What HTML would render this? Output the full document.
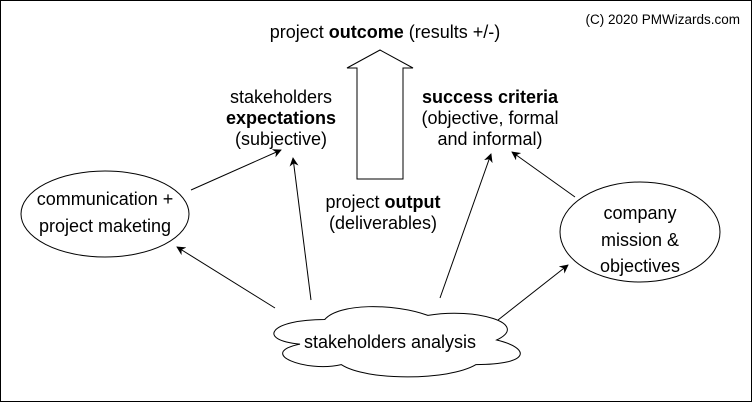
<!DOCTYPE html>
<html><head><meta charset="utf-8"><style>
html,body{margin:0;padding:0;background:#fff}
svg{display:block}
text{font-family:"Liberation Sans",Arial,sans-serif;font-size:18px;fill:#000}
</style></head><body>
<svg width="752" height="402" viewBox="0 0 752 402" xmlns="http://www.w3.org/2000/svg">
<defs><marker id="a" viewBox="0 0 10 10" refX="9" refY="5" markerWidth="9" markerHeight="9" markerUnits="userSpaceOnUse" orient="auto"><path d="M0,0 L10,5 L0,10 L3,5 Z" fill="#000"/></marker></defs>
<rect x="0.5" y="0.5" width="751" height="401" fill="#fff" stroke="#000"/>
<text x="740" y="24" text-anchor="end" style="font-size:13.5px">(C) 2020 PMWizards.com</text>
<text x="385" y="38" text-anchor="middle">project <tspan font-weight="bold">outcome</tspan> (results +/-)</text>
<path d="M357,179 L357,68 L347,68 L380,50 L413,68 L403,68 L403,179 Z" fill="#fff" stroke="#000"/>
<text x="281" y="103" text-anchor="middle">stakeholders</text>
<text x="281" y="124" text-anchor="middle" font-weight="bold">expectations</text>
<text x="281" y="145" text-anchor="middle">(subjective)</text>
<text x="490" y="103" text-anchor="middle" font-weight="bold">success criteria</text>
<text x="490" y="124" text-anchor="middle">(objective, formal</text>
<text x="490" y="145" text-anchor="middle">and informal)</text>
<text x="383" y="208" text-anchor="middle">project <tspan font-weight="bold">output</tspan></text>
<text x="383" y="229" text-anchor="middle">(deliverables)</text>
<ellipse cx="105" cy="214" rx="84" ry="43" fill="#fff" stroke="#000"/>
<text x="105" y="205" text-anchor="middle">communication +</text>
<text x="105" y="232" text-anchor="middle">project maketing</text>
<ellipse cx="640" cy="232" rx="80" ry="50" fill="#fff" stroke="#000"/>
<text x="640" y="219" text-anchor="middle">company</text>
<text x="640" y="246" text-anchor="middle">mission &amp;</text>
<text x="640" y="272" text-anchor="middle">objectives</text>
<g stroke="#000" fill="none" marker-end="url(#a)">
<line x1="191" y1="190" x2="281" y2="150"/>
<line x1="311" y1="300" x2="293" y2="158"/>
<line x1="275" y1="308" x2="177" y2="247"/>
<line x1="440" y1="298" x2="491" y2="154"/>
<line x1="498" y1="320" x2="568" y2="265"/>
<line x1="575" y1="197" x2="512" y2="152"/>
</g>
<path transform="translate(256,299) scale(275,82)" vector-effect="non-scaling-stroke" d="M0.25,0.25 C0.05,0.25 0,0.5 0.16,0.55 C0,0.66 0.18,0.9 0.31,0.8 C0.4,1 0.7,1 0.8,0.8 C1,0.8 1,0.6 0.875,0.5 C1,0.3 0.8,0.1 0.625,0.2 C0.5,0.05 0.3,0.05 0.25,0.25 Z" fill="#fff" stroke="#000" stroke-width="1"/>
<text x="390" y="348" text-anchor="middle">stakeholders analysis</text>
</svg>
</body></html>
